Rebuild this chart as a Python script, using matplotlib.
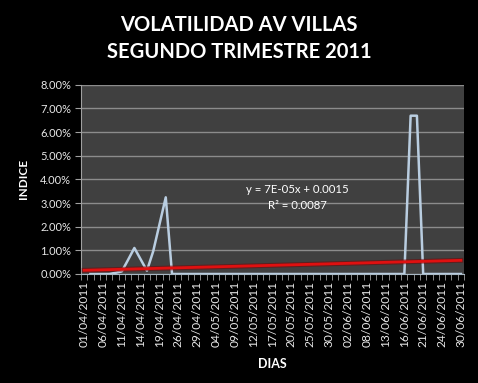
import matplotlib
matplotlib.use("Agg")
import matplotlib.pyplot as plt
import numpy as np

# dias habiles del trimestre (eje de categorias)
dias = ["01/04/2011", "04/04/2011", "05/04/2011", "06/04/2011", "07/04/2011", "08/04/2011",
        "11/04/2011", "12/04/2011", "13/04/2011", "14/04/2011", "15/04/2011", "18/04/2011",
        "19/04/2011", "20/04/2011", "25/04/2011", "26/04/2011", "27/04/2011", "28/04/2011",
        "29/04/2011", "02/05/2011", "03/05/2011", "04/05/2011", "05/05/2011", "06/05/2011",
        "09/05/2011", "10/05/2011", "11/05/2011", "12/05/2011", "13/05/2011", "16/05/2011",
        "17/05/2011", "18/05/2011", "19/05/2011", "20/05/2011", "23/05/2011", "24/05/2011",
        "25/05/2011", "26/05/2011", "27/05/2011", "30/05/2011", "31/05/2011", "01/06/2011",
        "02/06/2011", "03/06/2011", "07/06/2011", "08/06/2011", "09/06/2011", "10/06/2011",
        "13/06/2011", "14/06/2011", "15/06/2011", "16/06/2011", "17/06/2011", "20/06/2011",
        "21/06/2011", "22/06/2011", "23/06/2011", "24/06/2011", "28/06/2011", "29/06/2011",
        "30/06/2011"]

# volatilidad diaria (fraccion)
volatilidad = [np.nan, 0.0, 0.0, 0.0, 0.0, 0.0005, 0.0011, 0.0060, 0.0110, 0.0062,
               0.0014, 0.0096, 0.0210, 0.0324, 0.0, 0.0, 0.0, 0.0, 0.0, 0.0,
               0.0, 0.0, 0.0, 0.0, 0.0, 0.0, 0.0, 0.0, 0.0, 0.0,
               0.0, 0.0, 0.0, 0.0, 0.0, 0.0, 0.0, 0.0, 0.0, 0.0,
               0.0, 0.0, 0.0, 0.0, 0.0, 0.0, 0.0, 0.0, 0.0, 0.0,
               0.0, 0.0, 0.0669, 0.0669, 0.0, 0.0, 0.0, 0.0, 0.0, 0.0,
               0.0]

# tendencia lineal (segun ecuacion mostrada)
pendiente = 7e-05
intercepto = 0.0015

bg = "black"
plot_bg = "#404040"
grid_c = "#8c8c8c"
txt = "#e8e8e8"

plt.rcParams['font.family'] = ['Lato', 'DejaVu Sans']

fig = plt.figure(figsize=(4.78, 3.83), dpi=100)
fig.patch.set_facecolor(bg)
ax = fig.add_axes([81 / 478, 1 - 274 / 383, (464 - 81) / 478, (274 - 84.7) / 383])
ax.set_facecolor(plot_bg)

x = np.arange(len(dias))
ax.plot(x, volatilidad, color="#b9cde0", lw=1.8, zorder=3)

xt = x + 1
tend = pendiente * xt + intercepto
ax.plot(x, tend, color="#7a0000", lw=3.5, alpha=0.5, zorder=4)
ax.plot(x, tend, color="#e01010", lw=2.0, zorder=5)

ax.set_xlim(-0.5, len(dias) - 0.5)
ax.set_ylim(0, 0.08)

yt = np.arange(0, 0.081, 0.01)
ax.set_yticks(yt)
ax.set_yticklabels([f"{v * 100:.2f}%" for v in yt], color=txt, fontsize=8)
ax.yaxis.grid(True, color=grid_c, lw=1)
ax.set_axisbelow(True)

ax.set_xticks(x[::3])
ax.set_xticklabels(dias[::3], rotation=90, color=txt, fontsize=8.6)
ax.set_xticks(np.arange(-0.5, len(dias)), minor=True)
ax.tick_params(axis="x", which="major", length=0, pad=5)
ax.tick_params(axis="x", which="minor", length=4, color="#a0a0a0", direction="out")
ax.tick_params(axis="y", length=4, color="#a0a0a0", pad=3)

for s in ["top", "right"]:
    ax.spines[s].set_visible(False)
ax.spines["left"].set_color("#a0a0a0")
ax.spines["bottom"].set_color("#a8b8c4")

ax.set_xlabel("DIAS", color="white", fontsize=9, fontweight="bold", labelpad=8)
ax.set_ylabel("INDICE", color="white", fontsize=8.5, fontweight="bold", labelpad=8)

ax.text(0.565, 0.445, "y = 7E-05x + 0.0015", transform=ax.transAxes, color="white",
        fontsize=8.2, ha="center", va="center")
ax.text(0.565, 0.36, "R² = 0.0087", transform=ax.transAxes, color="white",
        fontsize=8.2, ha="center", va="center")

fig.text(0.5, 1 - 25 / 383, "VOLATILIDAD AV VILLAS", color="white", fontsize=14.5,
         fontweight="bold", ha="center", va="center")
fig.text(0.5, 1 - 52 / 383, "SEGUNDO TRIMESTRE 2011", color="white", fontsize=14.5,
         fontweight="bold", ha="center", va="center")

fig.savefig("out.png", dpi=100, facecolor=bg)
